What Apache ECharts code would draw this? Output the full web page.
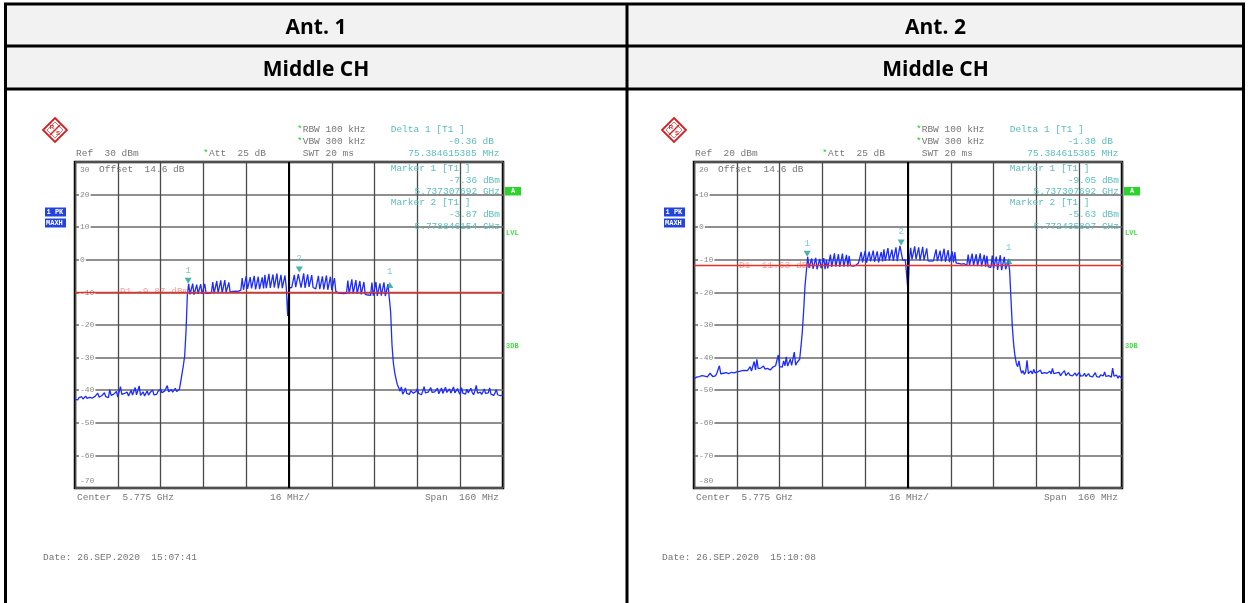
<!DOCTYPE html>
<html><head><meta charset="utf-8">
<script src="https://cdn.jsdelivr.net/npm/echarts@6/dist/echarts.min.js"></script>
<style>html,body{margin:0;padding:0;background:#fff}#c{width:1248px;height:603px}</style>
</head><body><div id="c"></div>
<script>
// ---------- data ----------
const headers = ['Ant. 1', 'Ant. 2'];
const subHeaders = ['Middle CH', 'Middle CH'];
const sweepStepMHz = 0.5;              // frequency offset from 5.695 GHz start
const refLevels = [30, 20];            // top of y axis (dBm)
const bottomLevels = [-70, -80];       // bottom of y axis
const displayLines = [-9.87, -11.63];  // D1 lines
const displayLineText = ['D1 -9.87 dBm', 'D1 -11.63 dBm'];
const deltaText = ['-0.36 dB', '-1.30 dB'];
const marker1Text = ['-7.36 dBm', '-9.05 dBm'];
const marker1Freq = ['5.737307692 GHz', '5.737307692 GHz'];
const marker2Text = ['-3.87 dBm', '-5.63 dBm'];
const marker2Freq = ['5.778846154 GHz', '5.772435897 GHz'];
const dates = ['Date: 26.SEP.2020  15:07:41', 'Date: 26.SEP.2020  15:10:08'];
const marker1Pts = [[42.31, -7.36], [42.31, -9.05]];
const marker2Pts = [[83.85, -3.87], [77.44, -5.63]];
const delta1Pts = [[117.69, -7.72], [117.69, -10.35]];

const trace1 = [
-42.8,-42.5,-43.0,-42.3,-42.6,-42.0,-42.7,-42.4,-41.8,-42.5,-42.9,-42.2,-41.6,-42.4,-42.7,-41.9,-42.3,-40.9,-42.1,-42.6,
-41.7,-42.2,-40.8,-42.0,-41.5,-42.3,-39.8,-41.6,-42.0,-41.2,-41.8,-40.4,-42.1,-41.5,-38.9,-41.3,-41.9,-41.0,-41.6,-40.6,
-41.8,-41.2,-40.0,-41.5,-41.9,-39.2,-41.4,-41.0,-38.7,-41.6,-41.1,-40.5,-41.8,-41.3,-40.2,-41.5,-40.8,-41.2,-39.9,-41.4,
-40.9,-41.3,-40.4,-41.0,-39.6,-40.8,-41.2,-40.3,-40.7,-38.6,-40.5,-40.9,-39.8,-40.6,-40.2,-39.4,-40.4,-40.0,-39.8,
-37.5,-35.0,-32.5,-29.5,-22.0,-10.8,
-7.4,-10.6,-10.4,-7.3,-10.7,-10.5,-7.6,-10.4,-10.6,-7.5,-10.5,-10.7,-7.4,
-10.3,-10.5,-10.2,-10.4,-10.1,
-6.8,-10.3,-10.1,-6.5,-10.2,-10.0,-6.3,-10.2,-10.1,-6.2,-10.0,-10.2,-6.9,
-9.9,-9.8,-9.7,-9.9,-9.6,-9.5,-9.7,-9.4,-9.3,
-5.6,-9.2,-9.0,-5.0,-8.9,-9.1,-5.3,-8.8,-9.0,-4.9,-9.1,-8.9,-5.2,-9.0,-8.8,-5.4,
-8.8,
-4.6,-8.7,-8.9,-4.3,-8.6,-8.8,-4.5,-8.5,-8.7,-4.2,-8.8,-8.6,-4.6,-8.7,-8.5,-4.8,
-8.6,-17.2,-8.6,-8.4,-8.5,-8.3,
-4.6,-8.4,-8.3,-4.4,-3.9,-8.5,-8.3,-4.2,-8.6,-8.4,-4.5,-8.3,-8.6,-4.7,-8.5,
-8.7,-8.9,-8.8,
-4.9,-9.0,-8.9,-5.1,-9.1,-9.0,-4.8,-9.2,-9.0,-5.2,-9.3,-9.1,-5.6,
-9.7,-10.0,-10.2,-10.1,-10.3,-10.2,-10.4,-10.3,-10.2,
-6.4,-10.4,-10.5,-6.0,-10.3,-10.6,-6.2,-10.4,-10.5,-6.5,-10.6,-10.4,-6.8,-10.6,
-10.6,-10.8,-10.7,-10.9,
-7.0,-11.0,-10.9,-6.8,-11.1,-11.2,-7.2,-11.0,-11.3,-6.9,-11.1,-11.2,-7.5,-7.7,
-16.0,-26.0,-31.5,-34.5,-36.5,-38.3,-39.2,-40.3,
-39.0,-41.2,-40.5,-39.3,-41.0,-40.6,-41.3,-40.2,-39.8,-40.9,-41.1,-40.4,-39.5,-41.0,-40.7,-41.4,-40.3,-38.9,-40.8,-41.2,
-40.6,-41.0,-39.2,-40.7,-41.3,-40.5,-40.9,-39.4,-41.1,-40.6,-39.3,-41.0,-40.8,-39.1,-40.7,-41.2,-39.6,-40.9,-40.5,-39.0,
-40.8,-41.1,-39.5,-40.6,-41.3,-39.2,-40.9,-40.4,-41.2,-39.7,-40.8,-41.0,-39.4,-40.7,-41.4,-40.2,-38.5,-40.9,-41.1,-40.6,
-41.3,-40.5,-39.6,-41.0,-41.5,-40.8,-39.3,-41.2,-40.7,-41.6,-40.9,-39.8,-41.4,-41.0,-41.7,-41.2,-41.5
];

const trace2 = [
-46.5,-46.2,-46.0,-46.4,-45.8,-46.1,-45.5,-46.0,-45.7,-45.3,-45.9,-45.6,-44.8,-45.4,-45.8,-45.2,-45.6,-44.9,-45.3,-42.5,
-45.0,-45.4,-44.8,-45.2,-44.6,-45.1,-44.9,-45.3,-44.5,-44.9,-44.7,-45.1,-44.4,-44.8,-44.2,-44.6,-44.0,-44.5,-43.9,-44.3,
-44.0,-43.5,-42.8,-44.1,-43.6,-41.2,-43.8,-40.5,-43.4,-43.9,-43.2,-43.7,-42.6,-43.5,-43.9,-43.3,-43.6,-43.8,-43.2,-42.9,
-43.4,-42.5,-43.0,-39.2,-42.8,-42.2,-42.9,-41.0,-42.5,-39.8,-42.6,-42.1,-40.5,-42.4,-41.8,-38.3,-42.3,-41.5,-42.0,
-40.5,-36.5,-32.0,-25.5,-18.0,-13.5,
-9.1,-12.5,-12.7,-9.6,-12.8,-12.6,-9.4,-12.9,-12.7,-9.7,-12.6,-12.8,-9.5,-12.9,-10.0,
-12.6,-12.4,
-8.4,-12.2,-12.3,-8.0,-12.1,-12.4,-8.3,-12.2,-12.0,-8.1,-12.1,-12.3,-8.5,-12.1,-8.8,
-11.8,-11.6,-11.9,-11.5,-11.7,-11.3,-11.0,-10.8,
-7.6,-10.8,-10.6,-7.3,-10.9,-10.7,-7.5,-10.5,-10.8,-7.2,-10.6,-10.7,-7.4,-10.8,-10.6,-7.6,
-10.5,
-6.8,-10.3,-10.4,-6.4,-10.2,-10.5,-6.9,-10.3,-10.2,-6.2,-10.4,-10.3,-5.7,-5.6,
-10.1,-10.4,-10.0,-10.3,-19.6,-10.2,
-6.3,-9.9,-10.1,-5.9,-9.8,-10.0,-6.2,-10.2,-10.0,-6.0,-10.1,-9.9,-6.5,
-10.3,-10.1,-10.4,-10.2,
-10.3,-10.5,-6.8,-10.4,-10.6,-7.2,-10.5,-10.7,-6.6,-10.6,-10.8,-7.0,-10.7,-10.6,-7.4,-10.8,-7.6,
-11.0,-11.2,-11.1,-11.4,-11.3,-11.5,-11.2,-11.4,-11.6,
-8.4,-11.7,-11.9,-8.1,-11.8,-12.0,-8.3,-11.9,-12.1,-8.0,-12.0,-11.9,-8.5,-12.1,-8.8,
-12.2,-12.4,-12.3,
-8.7,-12.6,-12.9,-9.0,-13.1,-12.8,-8.6,-13.2,-13.0,-9.1,-12.9,-13.1,-10.2,-13.4,
-22.0,-30.5,-36.0,-39.5,-41.8,-42.8,-41.0,
-43.5,-44.8,-44.0,-45.2,-44.3,-40.8,-44.9,-45.3,-44.1,-45.0,-43.6,-44.7,-45.2,-44.4,-45.0,-43.8,-44.9,-45.4,-44.6,-45.1,
-44.8,-45.3,-44.2,-45.0,-43.3,-44.9,-45.4,-44.7,-45.2,-44.5,-45.6,-44.9,-45.3,-44.0,-45.5,-45.1,-44.6,-45.4,-45.0,-45.6,
-45.2,-44.7,-45.6,-45.3,-44.5,-45.7,-45.1,-45.5,-44.8,-45.8,-45.4,-44.9,-45.7,-45.2,-45.9,-45.4,-44.6,-45.8,-45.5,-46.0,
-45.3,-45.9,-45.6,-44.4,-45.8,-46.1,-45.5,-44.9,-46.0,-43.2,-45.7,-46.2,-45.4,-46.3,-45.6,-46.1,-46.5
];
const traces = [trace1, trace2];

// ---------- layout ----------
const panelDx = [0, 619];
const gridLeft = [75, 694];
const MONO = '"Liberation Mono", "DejaVu Sans Mono", monospace';
const GREY = '#767676', TEAL = '#5cbcbc', GREEN = '#22cc22';

function txt(x, y, s, o) {
  o = o || {};
  return {type: 'text', x: x, y: y, z: 20, silent: true,
    style: {text: s, fill: o.fill || GREY, font: (o.weight || 'normal') + ' ' + (o.size || 9.5) + 'px ' + (o.family || MONO),
      align: o.align || 'left', verticalAlign: 'middle'}};
}

const graphics = [];
// table
graphics.push({type: 'rect', z: 1, silent: true, shape: {x: 5, y: 4, width: 1239, height: 85}, style: {fill: '#f2f2f2'}});
const L = (x1, y1, x2, y2, w) => ({type: 'line', z: 2, silent: true, shape: {x1, y1, x2, y2}, style: {stroke: '#000', lineWidth: w || 3}});
graphics.push(L(4, 4, 1245, 4), L(4, 46, 1245, 46), L(4, 89, 1245, 89),
  L(5.5, 3, 5.5, 603), L(627, 3, 627, 603), L(1243.5, 3, 1243.5, 603));
const colCenters = [316, 935.5];
for (let i = 0; i < 2; i++) {
  graphics.push(txt(colCenters[i], 28, headers[i], {size: 21, weight: 'bold', family: '"Open Sans", sans-serif', fill: '#000', align: 'center'}));
  graphics.push(txt(colCenters[i], 70, subHeaders[i], {size: 21, weight: 'bold', family: '"Open Sans", sans-serif', fill: '#000', align: 'center'}));
}
// panels
for (let i = 0; i < 2; i++) {
  const d = panelDx[i];
  // R&S logo
  graphics.push({type: 'group', x: 55 + d, y: 130, z: 20, silent: true, children: [
    {type: 'polygon', shape: {points: [[0, -12], [12, 0], [0, 12], [-12, 0]]}, style: {fill: '#fff', stroke: '#d42020', lineWidth: 1.8}},
    {type: 'polygon', shape: {points: [[0, -8], [8, 0], [0, 8], [-8, 0]]}, style: {fill: 'none', stroke: '#e05050', lineWidth: 0.8}},
    {type: 'line', shape: {x1: 5, y1: -5, x2: -5, y2: 5}, style: {stroke: '#d42020', lineWidth: 1.5}},
    {type: 'text', x: -3, y: -3, style: {text: 'R', fill: '#d42020', font: 'bold 6px sans-serif', align: 'center', verticalAlign: 'middle'}},
    {type: 'text', x: 3, y: 3.5, style: {text: 'S', fill: '#d42020', font: 'bold 6px sans-serif', align: 'center', verticalAlign: 'middle'}}
  ]});
  graphics.push(
    txt(76 + d, 153, 'Ref  ' + refLevels[i] + ' dBm'),
    txt(203 + d, 153, '*', {fill: GREEN}), txt(209 + d, 153, 'Att  25 dB'),
    txt(297 + d, 129, '*', {fill: GREEN}), txt(302.7 + d, 129, 'RBW 100 kHz'),
    txt(297 + d, 141, '*', {fill: GREEN}), txt(302.7 + d, 141, 'VBW 300 kHz'),
    txt(302.7 + d, 153, 'SWT 20 ms'),
    txt(390.7 + d, 129, 'Delta 1 [T1 ]', {fill: TEAL}),
    txt(494 + d, 141, deltaText[i], {fill: TEAL, align: 'right'}),
    txt(499.5 + d, 153, '75.384615385 MHz', {fill: TEAL, align: 'right'}),
    txt(390.7 + d, 168, 'Marker 1 [T1 ]', {fill: TEAL}),
    txt(500 + d, 180, marker1Text[i], {fill: TEAL, align: 'right'}),
    txt(500 + d, 191.5, marker1Freq[i], {fill: TEAL, align: 'right'}),
    txt(390.7 + d, 202, 'Marker 2 [T1 ]', {fill: TEAL}),
    txt(500 + d, 214.5, marker2Text[i], {fill: TEAL, align: 'right'}),
    txt(500 + d, 226.5, marker2Freq[i], {fill: TEAL, align: 'right'}),
    txt(99 + d, 169.3, 'Offset  14.6 dB'),
    txt(77 + d, 497, 'Center  5.775 GHz'),
    txt(270 + d, 497, '16 MHz/'),
    txt(499 + d, 497, 'Span  160 MHz', {align: 'right'}),
    txt(43 + d, 557, dates[i]),
    {type: 'rect', z: 20, silent: true, shape: {x: 505 + d, y: 187, width: 16, height: 8.5}, style: {fill: '#2ad42a'}},
    txt(513 + d, 191.5, 'A', {fill: '#fff', size: 7, weight: 'bold', align: 'center'}),
    txt(506 + d, 233, 'LVL', {fill: '#44dd44', size: 7, weight: 'bold'}),
    txt(506 + d, 346, '3DB', {fill: '#44dd44', size: 7, weight: 'bold'}),
    {type: 'rect', z: 20, silent: true, shape: {x: 45 + d, y: 207.5, width: 21, height: 9}, style: {fill: '#2244dd'}},
    {type: 'rect', z: 20, silent: true, shape: {x: 45 + d, y: 218.5, width: 21, height: 9}, style: {fill: '#2244dd'}},
    txt(46.5 + d, 212, '1 PK', {fill: '#fff', size: 7, weight: 'bold'}),
    txt(46 + d, 223, 'MAXH', {fill: '#fff', size: 7, weight: 'bold'})
  );
}

// ---------- chart ----------
const freqs = trace1.map((_, k) => k * sweepStepMHz);
const grids = [], xAxes = [], yAxes = [], series = [];
for (let i = 0; i < 2; i++) {
  grids.push({left: gridLeft[i], top: 162, width: 428, height: 326, show: true, borderColor: '#000', borderWidth: 2.5, backgroundColor: 'transparent'});
  xAxes.push({gridIndex: i, type: 'value', min: 0, max: 160, interval: 16,
    axisLine: {show: false}, axisTick: {show: false}, axisLabel: {show: false},
    splitLine: {show: true, lineStyle: {color: '#4a4a4a', width: 1.3}}});
  const yMax = refLevels[i], yMin = bottomLevels[i];
  yAxes.push({gridIndex: i, type: 'value', min: yMin, max: yMax, interval: 10,
    axisLine: {show: false}, axisTick: {show: false},
    splitLine: {show: true, lineStyle: {color: '#6a6a6a', width: 1.6}},
    axisLabel: {inside: true, margin: 4, showMinLabel: true, showMaxLabel: true,
      formatter: v => v === yMax ? '{t|' + v + '}' : (v === yMin ? '{b|' + v + '}' : '{n|' + v + '}'),
      rich: {
        n: {fontSize: 8, fontFamily: MONO, color: '#888', backgroundColor: '#fff', padding: [0, 1, 0, 1]},
        t: {fontSize: 8, fontFamily: MONO, color: '#888', padding: [16, 0, 0, 1]},
        b: {fontSize: 8, fontFamily: MONO, color: '#888', padding: [0, 0, 14, 1]}
      }}});
  // center line
  series.push({type: 'line', xAxisIndex: i, yAxisIndex: i, data: [], z: 1, silent: true,
    markLine: {silent: true, symbol: 'none', animation: false, label: {show: false},
      data: [{xAxis: 80, lineStyle: {color: '#000', width: 2, type: 'solid'}}]}});
  // trace
  series.push({type: 'line', xAxisIndex: i, yAxisIndex: i, z: 3, animation: false, symbol: 'none',
    data: freqs.map((f, k) => [f, traces[i][k]]),
    lineStyle: {color: '#1c2cff', width: 1.3},
    markLine: {silent: true, symbol: 'none', animation: false, label: {show: false},
      data: [{yAxis: displayLines[i], lineStyle: {color: '#e8302a', width: 1.3, type: 'solid'}}]}});
  // D1 label
  series.push({type: 'scatter', xAxisIndex: i, yAxisIndex: i, z: 4, silent: true, symbolSize: 0,
    data: [[16.8, displayLines[i]]],
    label: {show: true, position: 'right', distance: 0, formatter: displayLineText[i],
      color: 'rgba(240,90,90,0.75)', fontSize: 9.5, fontFamily: MONO}});
  // markers (down triangles)
  series.push({type: 'scatter', xAxisIndex: i, yAxisIndex: i, z: 5, silent: true,
    symbol: 'triangle', symbolRotate: 180, symbolSize: [7, 6], symbolOffset: [0, -3],
    itemStyle: {color: '#1aa095'},
    data: [{value: marker1Pts[i], label: {formatter: '1'}}, {value: marker2Pts[i], label: {formatter: '2'}}],
    label: {show: true, position: 'top', distance: 3, color: TEAL, fontSize: 9, fontFamily: MONO}});
  // delta marker (up triangle)
  series.push({type: 'scatter', xAxisIndex: i, yAxisIndex: i, z: 5, silent: true,
    symbol: 'triangle', symbolSize: [7, 6], itemStyle: {color: '#1aa095'},
    data: [delta1Pts[i]],
    label: {show: true, position: 'top', distance: 6, formatter: '1', color: TEAL, fontSize: 9, fontFamily: MONO}});
}

const chart = echarts.init(document.getElementById('c'), null, {renderer: 'canvas'});
chart.setOption({
  animation: false,
  backgroundColor: '#fff',
  grid: grids, xAxis: xAxes, yAxis: yAxes, series: series,
  graphic: {elements: graphics}
});
</script>
</body></html>
